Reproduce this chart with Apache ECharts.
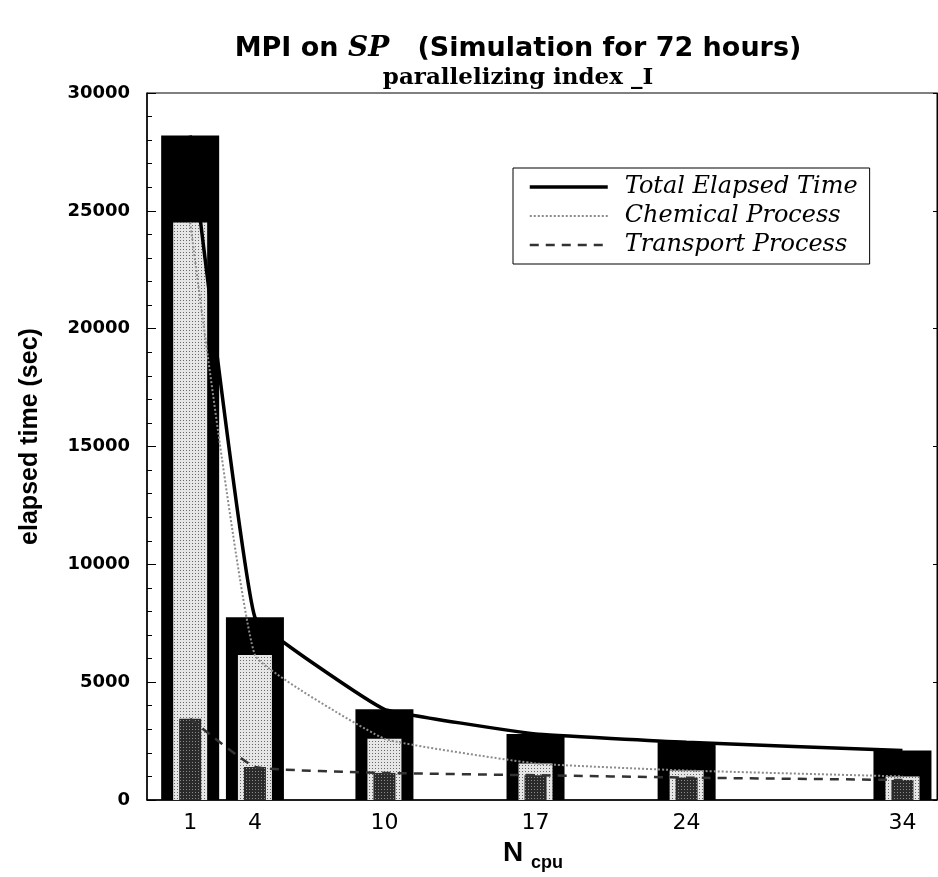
<!DOCTYPE html>
<html>
<head>
<meta charset="utf-8">
<script src="https://cdn.jsdelivr.net/npm/echarts@6/dist/echarts.min.js"></script>
<style>html,body{margin:0;padding:0;background:#fff;}#c{width:938px;height:877px;}</style>
</head>
<body>
<div id="c"></div>
<script>
// ---- data ----
const nCpu = [1, 4, 10, 17, 24, 34];
const totalTime = [28200, 7750, 3850, 2800, 2450, 2100];
const chemTime = [24500, 6150, 2600, 1550, 1250, 1000];
const transTime = [3450, 1400, 1150, 1050, 950, 850];
const xTickLabels = [1, 4, 10, 17, 24, 34];
const seriesNames = ['Total Elapsed Time', 'Chemical Process', 'Transport Process'];

const pairs = arr => nCpu.map((x, i) => [x, arr[i]]);
const chart = echarts.init(document.getElementById('c'));

const xMin = -1, xMax = 35.6;
const hiddenX = () => ({type: 'value', min: xMin, max: xMax, show: false, gridIndex: 0});

chart.setOption({
  animation: false,
  backgroundColor: '#fff',
  title: {
    left: 513, top: 30, textAlign: 'center',
    text: '{a|MPI on }{b|SP}{a|   (Simulation for 72 hours)}',
    textStyle: {
      rich: {
        a: {fontFamily: 'DejaVu Sans', fontWeight: 'bold', fontSize: 27, color: '#000'},
        b: {fontFamily: 'DejaVu Serif', fontWeight: 'bold', fontStyle: 'italic', fontSize: 28, color: '#000'}
      }
    },
    subtext: 'parallelizing index _I',
    subtextStyle: {fontFamily: 'DejaVu Serif', fontWeight: 'bold', fontSize: 23, color: '#000'},
    itemGap: 4
  },
  legend: {
    data: [
      {name: seriesNames[0], lineStyle: {width: 3.5}},
      {name: seriesNames[1], lineStyle: {width: 2}},
      {name: seriesNames[2], lineStyle: {width: 2.5}}
    ],
    orient: 'vertical',
    left: 513, top: 168,
    padding: [7, 12, 7, 15],
    itemWidth: 78, itemHeight: 14, itemGap: 5,
    borderColor: '#000', borderWidth: 1,
    itemStyle: {opacity: 0},
    textStyle: {fontFamily: 'DejaVu Serif', fontStyle: 'italic', fontSize: 24, color: '#000', padding: [0, 0, 0, 12], lineHeight: 24}
  },
  grid: {left: 147, top: 93, width: 790, height: 713, show: true, borderColor: '#000', borderWidth: 1, backgroundColor: 'transparent'},
  xAxis: [
    {
      type: 'value', min: xMin, max: xMax,
      axisLine: {show: true, onZero: false, lineStyle: {color: '#000', width: 1.5}},
      axisTick: {show: false},
      splitLine: {show: false},
      axisLabel: {customValues: xTickLabels, fontFamily: 'DejaVu Sans', fontSize: 22, color: '#000', margin: 12},
      name: '{n|N}{s|cpu}',
      nameLocation: 'middle', nameGap: 35,
      nameTextStyle: {
        padding: [0, 18, 0, 0],
        rich: {
          n: {fontFamily: 'Liberation Sans', fontWeight: 'bold', fontSize: 28, color: '#000', lineHeight: 28},
          s: {fontFamily: 'Liberation Sans', fontWeight: 'bold', fontSize: 18, color: '#000', padding: [19, 0, 0, 8], verticalAlign: 'top'}
        }
      }
    },
    hiddenX(),
    hiddenX()
  ],
  yAxis: [
    {
      type: 'value', min: 0, max: 30000, interval: 5000,
      axisLine: {show: true, onZero: false, lineStyle: {color: '#000', width: 1.5}},
      axisTick: {show: true, inside: true, length: 9, lineStyle: {color: '#000'}},
      minorTick: {show: true, splitNumber: 5, length: 5, lineStyle: {color: '#000'}},
      splitLine: {show: false},
      axisLabel: {fontFamily: 'DejaVu Sans', fontWeight: 'bold', fontSize: 18, color: '#000', margin: 17,
        formatter: v => String(v)},
      name: 'elapsed time (sec)',
      nameLocation: 'middle', nameRotate: 90, nameGap: 104,
      nameTextStyle: {fontFamily: 'Liberation Sans', fontWeight: 'bold', fontSize: 25, color: '#000', padding: [0, 0, 0, 20]}
    },
    {
      type: 'value', min: 0, max: 30000, interval: 5000, position: 'right',
      axisLine: {show: true, onZero: false, lineStyle: {color: '#000'}},
      axisTick: {show: true, inside: true, length: 4, lineStyle: {color: '#000'}},
      axisLabel: {show: false},
      splitLine: {show: false}
    }
  ],
  series: [
    {type: 'bar', name: 'bar_total', xAxisIndex: 0, data: pairs(totalTime), barWidth: 58, itemStyle: {color: '#000'}, z: 1},
    {type: 'bar', name: 'bar_chem', xAxisIndex: 1, data: pairs(chemTime), barWidth: 34,
      itemStyle: {color: '#e6e6e6', decal: {symbol: 'rect', symbolSize: 1, color: 'rgba(0,0,0,0.55)', dashArrayX: [1, 2], dashArrayY: [1, 2]}}, z: 1},
    {type: 'bar', name: 'bar_trans', xAxisIndex: 2, data: pairs(transTime), barWidth: 22,
      itemStyle: {color: '#2a2a2a', decal: {symbol: 'rect', symbolSize: 1, color: 'rgba(255,255,255,0.45)', dashArrayX: [1, 2], dashArrayY: [1, 2]}}, z: 1},
    {type: 'line', name: seriesNames[0], xAxisIndex: 0, data: pairs(totalTime), smooth: 0.08, symbol: 'none',
      itemStyle: {color: '#000'}, lineStyle: {color: '#000', width: 3.5}, z: 5},
    {type: 'line', name: seriesNames[1], xAxisIndex: 0, data: pairs(chemTime), smooth: 0.1, symbol: 'none',
      itemStyle: {color: '#8c8c8c'}, lineStyle: {color: '#8c8c8c', width: 2, type: [2, 2]}, z: 5},
    {type: 'line', name: seriesNames[2], xAxisIndex: 0, data: pairs(transTime), smooth: 0.1, symbol: 'none',
      itemStyle: {color: '#333'}, lineStyle: {color: '#333', width: 2.5, type: [9, 7]}, z: 5}
  ]
});
</script>
</body>
</html>
